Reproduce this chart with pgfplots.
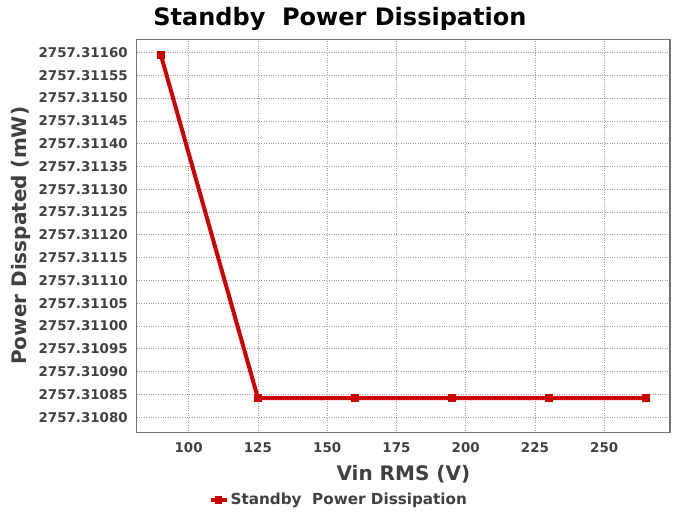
\documentclass[border=0pt]{standalone}
\usepackage{fontspec}
\setmainfont{DejaVu Sans}
\usepackage{pgfplots}
\pgfplotsset{compat=1.18}
\definecolor{txtgray}{HTML}{404040}
\definecolor{linered}{HTML}{CC0000}

% y values stored as (P - 2757.31 mW) in units of 1e-5 mW
\begin{document}
\begin{tikzpicture}
\path[use as bounding box] (0,0) rectangle (675pt,512pt);
\begin{axis}[
    at={(136.7pt,79.7pt)}, anchor=south west,
    scale only axis,
    width=533.3pt, height=393pt,
    xmin=81.25, xmax=273.75,
    ymin=76.7, ymax=162.9,
    xtick={100,125,...,250},
    ytick={80,85,...,160},
    yticklabels={2757.31080,2757.31085,2757.31090,2757.31095,2757.31100,2757.31105,2757.31110,2757.31115,2757.31120,2757.31125,2757.31130,2757.31135,2757.31140,2757.31145,2757.31150,2757.31155,2757.31160},
    /pgf/number format/assume math mode=true,
    major tick length=0pt,
    grid=major,
    major grid style={dotted, gray!75, line width=0.8pt},
    axis line style={black!55, line width=1.5pt},
    tick label style={font=\fontsize{13.4}{14}\selectfont\bfseries, text=txtgray},
    xticklabel style={yshift=-7pt},
    yticklabel style={xshift=-5.5pt},
    xlabel={Vin RMS (V)},
    ylabel={Power Disspated (mW)},
    label style={font=\fontsize{20}{22}\selectfont\bfseries, text=txtgray},
    xlabel style={at={(0.5,-0.1056)}, anchor=center},
    ylabel style={at={(-0.217,0.5)}, anchor=center},
    title={Standby\ \ Power Dissipation},
    title style={at={(0.381,1.019)}, anchor=base, font=\fontsize{24}{26}\selectfont\bfseries},
    legend style={at={(0.379,-0.172)}, anchor=center, draw=none, fill=none,
        font=\fontsize{15.2}{17}\selectfont\bfseries, text=txtgray},
    legend image code/.code={
        \draw[mark repeat=2, mark phase=2, #1] plot coordinates {(0pt,0pt) (8pt,0pt) (16pt,0pt)};},
]
\addplot[linered, line width=4pt, mark=square*, mark size=3.3pt, mark options={solid, line width=0pt}] coordinates {
    (90, 159.4) (125, 84.2) (160, 84.2) (195, 84.2) (230, 84.2) (265, 84.2)
};
\addlegendentry{Standby\ \ Power Dissipation}
\end{axis}
\end{tikzpicture}
\end{document}
